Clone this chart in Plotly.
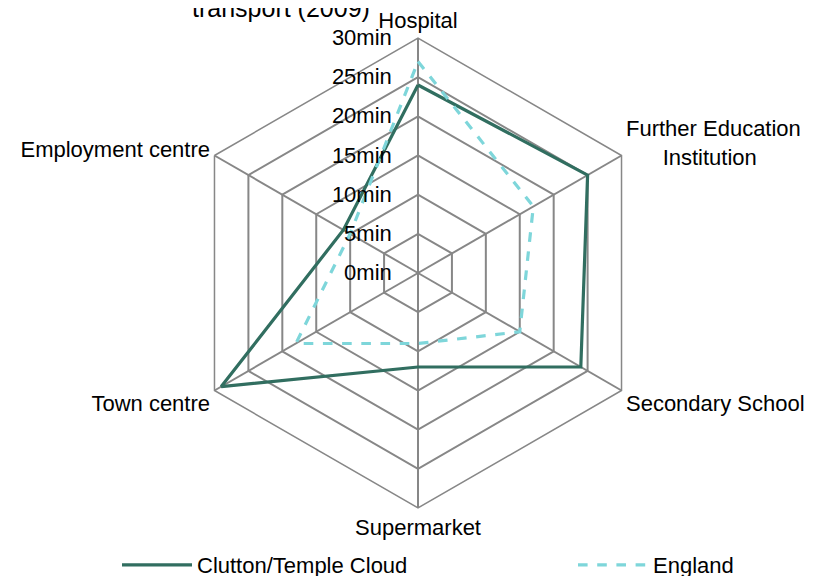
import plotly.graph_objects as go

categories = ["Hospital", "Further Education<br>&nbsp;&nbsp;&nbsp;&nbsp;&nbsp;&nbsp;Institution", "Secondary School",
              "Supermarket", "Town centre", "Employment centre"]
clutton = [24, 25, 24, 12, 29, 11]
england = [27, 17, 15, 9, 18, 10]
tick_vals = [0, 5, 10, 15, 20, 25, 30]
tick_text = ["0min", "5min", "10min", "15min", "20min", "25min", "30min"]

W, H = 819, 576
OFF = 8  # page offset of the figure in the screenshot
cx, cy, R = 418 - OFF, 273 - OFF, 235

fig = go.Figure()
fig.add_trace(go.Scatterpolar(
    r=clutton + clutton[:1], theta=categories + categories[:1],
    mode="lines", name="Clutton/Temple Cloud", legend="legend",
    line=dict(color="#316E60", width=3.2)))
fig.add_trace(go.Scatterpolar(
    r=england + england[:1], theta=categories + categories[:1],
    mode="lines", name="England", legend="legend2",
    line=dict(color="#7ED6DA", width=3.2, dash="dash")))

leg_common = dict(orientation="h", y=19 / H, xanchor="left", yanchor="middle",
                  itemwidth=70, bgcolor="rgba(0,0,0,0)", font=dict(size=22))

fig.update_layout(
    width=W, height=H,
    margin=dict(l=0, r=0, t=0, b=0, autoexpand=False),
    paper_bgcolor="white", plot_bgcolor="white",
    font=dict(family="Liberation Sans, Arial, sans-serif", size=22, color="black"),
    showlegend=True,
    legend=dict(x=109 / W, **leg_common),
    legend2=dict(x=565 / W, **leg_common),
    polar=dict(
        domain=dict(x=[(cx - R) / W, (cx + R) / W], y=[(H - cy - R) / H, (H - cy + R) / H]),
        bgcolor="white",
        gridshape="linear",
        angularaxis=dict(direction="clockwise", rotation=90, showline=True,
                         linecolor="#878787", linewidth=1.5, gridcolor="#878787",
                         gridwidth=1.5, ticks="", tickfont=dict(size=22)),
        radialaxis=dict(range=[0, 30], tickvals=tick_vals, ticktext=tick_text,
                        angle=90, tickangle=90, showline=False,
                        ticks="outside", ticklen=18, tickcolor="rgba(0,0,0,0)",
                        gridcolor="#878787", gridwidth=1.5, side="counterclockwise",
                        tickfont=dict(size=22)),
    ),
)
fig.add_annotation(text="transport (2009)", xref="paper", yref="paper",
                   x=(281 - OFF) / W, y=1, xanchor="center", yanchor="middle", yshift=0,
                   showarrow=False, font=dict(size=25))
fig.write_html("out.html")
